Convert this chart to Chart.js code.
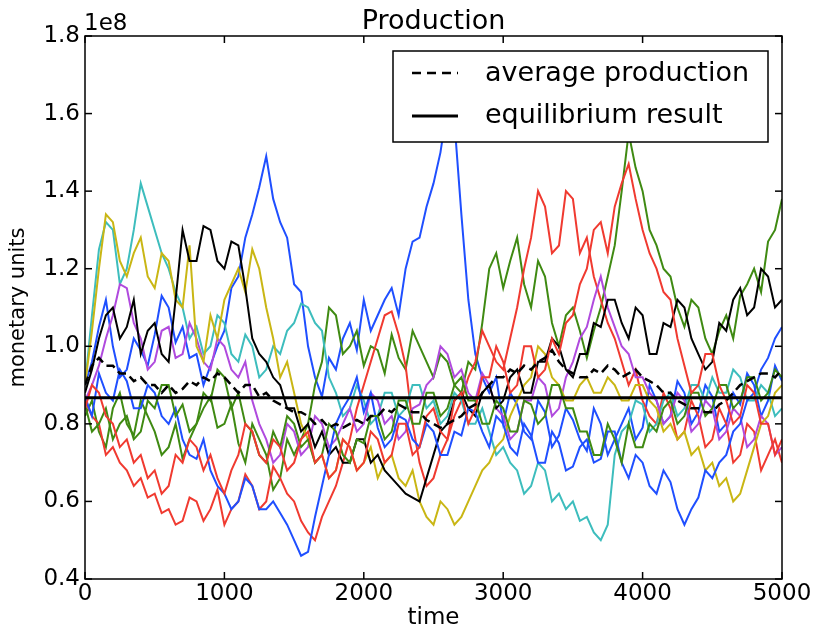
<!DOCTYPE html>
<html><head><meta charset="utf-8">
<script src="https://cdn.jsdelivr.net/npm/chart.js@4.4.1/dist/chart.umd.min.js"></script>
<style>html,body{margin:0;padding:0;background:#fff;}canvas{display:block;}</style>
</head><body>
<canvas id="c" width="815" height="634"></canvas>
<script>
// time axis (steps of 50)
const times = [
  0,50,100,150,200,250,300,350,400,450,
  500,550,600,650,700,750,800,850,900,950,
  1000,1050,1100,1150,1200,1250,1300,1350,1400,1450,
  1500,1550,1600,1650,1700,1750,1800,1850,1900,1950,
  2000,2050,2100,2150,2200,2250,2300,2350,2400,2450,
  2500,2550,2600,2650,2700,2750,2800,2850,2900,2950,
  3000,3050,3100,3150,3200,3250,3300,3350,3400,3450,
  3500,3550,3600,3650,3700,3750,3800,3850,3900,3950,
  4000,4050,4100,4150,4200,4250,4300,4350,4400,4450,
  4500,4550,4600,4650,4700,4750,4800,4850,4900,4950,
  5000];
const xTicks = [0,1000,2000,3000,4000,5000];
const yTicks = [0.4,0.6,0.8,1.0,1.2,1.4,1.6,1.8];
// values in units of 1e8 monetary units
const blueA = [
  0.90,0.96,1.05,1.12,1.00,0.92,0.94,1.02,0.99,0.95,
  1.03,1.13,1.10,1.01,1.05,0.97,0.98,0.90,0.95,1.00,
  1.04,1.15,1.18,1.28,1.34,1.41,1.49,1.38,1.32,1.28,
  1.16,1.14,1.00,0.92,0.87,0.97,0.94,1.02,1.06,0.99,
  1.12,1.04,1.08,1.12,1.15,1.08,1.20,1.27,1.28,1.36,
  1.42,1.50,1.62,1.58,1.34,1.12,0.98,0.92,0.88,0.92,
  0.80,0.88,0.85,0.78,0.76,0.86,0.83,0.74,0.77,0.84,
  0.81,0.76,0.73,0.84,0.80,0.72,0.76,0.80,0.84,0.76,
  0.79,0.90,0.86,0.80,0.82,0.91,0.88,0.80,0.83,0.90,
  0.87,0.78,0.80,0.88,0.85,0.93,0.90,0.82,0.86,0.95,
  0.91];
const greenA = [
  0.82,0.86,0.78,0.74,0.84,0.88,0.80,0.77,0.86,0.82,
  0.78,0.72,0.74,0.80,0.71,0.76,0.80,0.84,0.87,0.79,
  0.80,0.85,0.75,0.70,0.80,0.76,0.72,0.63,0.66,0.76,
  0.72,0.76,0.80,0.90,0.96,1.10,1.08,0.98,1.00,1.04,
  0.95,1.00,0.99,0.93,1.03,0.97,0.94,1.04,1.00,0.96,
  0.92,0.98,0.96,0.90,0.88,0.96,0.94,1.06,1.20,1.24,
  1.15,1.22,1.28,1.16,1.10,1.22,1.18,1.06,1.00,1.08,
  1.10,1.04,0.97,1.04,1.10,1.18,1.26,1.40,1.55,1.46,
  1.40,1.30,1.26,1.20,1.18,1.10,1.05,1.12,1.10,1.02,
  0.98,1.04,1.08,1.02,1.13,1.16,1.20,1.14,1.27,1.30,
  1.38];
const redA = [
  0.86,0.82,0.80,0.72,0.74,0.70,0.68,0.64,0.66,0.61,
  0.62,0.57,0.58,0.54,0.55,0.61,0.60,0.55,0.58,0.63,
  0.54,0.58,0.60,0.67,0.64,0.58,0.60,0.69,0.66,0.62,
  0.60,0.55,0.52,0.50,0.56,0.60,0.64,0.70,0.76,0.84,
  0.90,0.96,1.02,1.08,1.09,1.03,0.95,0.80,0.70,0.64,
  0.66,0.72,0.76,0.82,0.86,0.92,0.96,1.04,1.00,0.96,
  0.94,1.02,1.10,1.20,1.28,1.40,1.36,1.24,1.26,1.40,
  1.38,1.24,1.28,1.18,1.12,1.06,1.02,0.96,0.90,0.94,
  0.86,0.82,0.80,0.88,0.84,0.76,0.78,0.86,0.82,0.74,
  0.76,0.84,0.80,0.70,0.72,0.80,0.78,0.68,0.72,0.76,
  0.70];
const cyan = [
  0.90,1.08,1.25,1.32,1.30,1.16,1.20,1.30,1.42,1.36,
  1.30,1.24,1.20,1.14,1.10,1.02,1.05,0.98,1.00,1.08,
  1.06,0.98,0.96,1.03,1.00,0.92,0.94,1.00,0.98,1.04,
  1.06,1.11,1.10,1.06,1.04,0.92,0.88,0.82,0.84,0.90,
  0.86,0.80,0.82,0.88,0.88,0.82,0.84,0.90,0.90,0.84,
  0.86,0.80,0.82,0.88,0.86,0.80,0.80,0.84,0.78,0.72,
  0.74,0.70,0.68,0.62,0.64,0.70,0.68,0.60,0.62,0.58,
  0.60,0.55,0.56,0.52,0.50,0.54,0.72,0.78,0.80,0.86,
  0.85,0.78,0.80,0.86,0.88,0.82,0.84,0.90,0.90,0.86,
  0.92,0.88,0.88,0.94,0.92,0.86,0.86,0.90,0.88,0.82,
  0.84];
const magenta = [
  0.86,0.90,0.95,1.02,1.08,1.16,1.15,1.06,1.02,0.94,
  0.96,1.04,1.05,0.97,0.98,1.06,1.02,0.96,0.94,1.02,
  1.00,0.94,0.92,0.96,0.86,0.80,0.76,0.70,0.72,0.80,
  0.78,0.72,0.74,0.82,0.80,0.74,0.76,0.80,0.84,0.78,
  0.80,0.88,0.86,0.80,0.82,0.76,0.78,0.84,0.85,0.90,
  0.92,1.00,0.98,0.92,0.94,0.88,0.86,0.93,0.90,0.84,
  0.82,0.76,0.78,0.86,0.86,0.92,0.90,0.82,0.84,0.92,
  0.96,1.02,1.05,1.12,1.18,1.10,1.05,1.00,0.98,0.92,
  0.92,0.88,0.86,0.80,0.82,0.88,0.86,0.78,0.80,0.86,
  0.84,0.76,0.78,0.84,0.82,0.74,0.76,0.82,0.80,0.72,
  0.74];
const yellow = [
  0.90,1.04,1.20,1.34,1.32,1.22,1.18,1.24,1.28,1.18,
  1.15,1.24,1.22,1.12,1.10,1.26,1.00,0.96,1.08,1.02,
  1.12,1.16,1.20,1.14,1.25,1.20,1.10,1.02,0.92,0.96,
  0.88,0.80,0.76,0.70,0.72,0.66,0.68,0.76,0.74,0.68,
  0.70,0.74,0.66,0.70,0.72,0.66,0.64,0.68,0.60,0.56,
  0.54,0.60,0.58,0.54,0.56,0.60,0.64,0.68,0.70,0.74,
  0.76,0.82,0.86,0.90,0.92,1.00,0.98,0.92,0.90,0.86,
  0.86,0.90,0.92,0.88,0.88,0.92,0.90,0.86,0.86,0.90,
  0.90,0.86,0.84,0.78,0.80,0.76,0.78,0.72,0.74,0.68,
  0.70,0.64,0.66,0.60,0.62,0.68,0.74,0.80,0.82,0.88,
  0.90];
const black = [
  0.88,0.94,1.02,1.08,1.10,1.02,1.05,1.12,0.98,1.04,
  1.06,0.98,0.96,1.12,1.30,1.22,1.22,1.31,1.30,1.22,
  1.20,1.27,1.26,1.15,1.02,0.98,0.96,0.92,0.90,0.84,
  0.84,0.78,0.80,0.74,0.78,0.72,0.74,0.70,0.70,0.76,
  0.76,0.70,0.72,0.68,0.66,0.64,0.62,0.61,0.60,0.66,
  0.72,0.78,0.80,0.86,0.88,0.84,0.82,0.88,0.90,0.84,
  0.86,0.92,0.94,0.88,0.88,0.96,0.96,1.02,1.00,0.94,
  0.92,0.98,0.98,1.06,1.05,1.12,1.12,1.06,1.02,1.10,
  1.08,0.98,0.98,1.06,1.05,1.12,1.10,1.02,0.98,0.94,
  0.96,1.06,1.04,1.12,1.15,1.08,1.10,1.20,1.18,1.10,
  1.12];
const blueB = [
  0.87,0.82,0.93,0.88,0.86,0.94,0.91,0.84,0.84,0.90,
  0.88,0.82,0.80,0.84,0.76,0.72,0.71,0.76,0.68,0.64,
  0.62,0.58,0.60,0.66,0.64,0.58,0.58,0.60,0.57,0.54,
  0.50,0.46,0.47,0.56,0.64,0.72,0.80,0.84,0.87,0.92,
  0.83,0.88,0.79,0.74,0.76,0.82,0.81,0.76,0.74,0.80,
  0.78,0.72,0.72,0.78,0.77,0.84,0.83,0.78,0.74,0.82,
  0.80,0.74,0.72,0.80,0.77,0.70,0.70,0.78,0.75,0.68,
  0.69,0.74,0.76,0.70,0.71,0.78,0.78,0.70,0.66,0.72,
  0.70,0.64,0.62,0.68,0.65,0.58,0.54,0.58,0.61,0.68,
  0.66,0.70,0.72,0.78,0.80,0.86,0.88,0.94,0.97,1.02,
  1.05];
const greenB = [
  0.85,0.78,0.80,0.84,0.76,0.80,0.82,0.76,0.78,0.86,
  0.84,0.90,0.90,0.82,0.85,0.78,0.80,0.88,0.86,0.94,
  0.92,0.84,0.88,0.80,0.78,0.72,0.70,0.78,0.74,0.82,
  0.80,0.74,0.76,0.70,0.72,0.80,0.78,0.72,0.70,0.76,
  0.75,0.82,0.82,0.76,0.78,0.86,0.86,0.80,0.80,0.88,
  0.88,0.82,0.84,0.90,0.92,0.86,0.86,0.80,0.80,0.86,
  0.84,0.78,0.78,0.86,0.85,0.80,0.82,0.90,0.90,0.84,
  0.84,0.78,0.78,0.72,0.72,0.80,0.76,0.70,0.80,0.74,
  0.74,0.80,0.78,0.84,0.86,0.80,0.82,0.88,0.88,0.82,
  0.84,0.90,0.90,0.84,0.86,0.92,0.92,0.86,0.88,0.94,
  0.92];
const redB = [
  0.84,0.90,0.88,0.82,0.80,0.74,0.76,0.70,0.72,0.66,
  0.68,0.62,0.64,0.72,0.70,0.76,0.74,0.68,0.72,0.66,
  0.62,0.68,0.72,0.80,0.78,0.72,0.70,0.76,0.74,0.68,
  0.70,0.76,0.78,0.70,0.72,0.66,0.68,0.76,0.74,0.68,
  0.70,0.78,0.76,0.70,0.72,0.80,0.80,0.72,0.74,0.82,
  0.84,0.78,0.76,0.86,0.88,0.80,0.84,0.92,0.92,1.00,
  0.96,0.88,0.90,1.00,1.00,0.92,0.94,1.02,0.98,1.06,
  1.08,1.16,1.20,1.30,1.32,1.24,1.36,1.42,1.47,1.38,
  1.30,1.24,1.20,1.14,1.12,1.02,0.95,0.88,0.90,0.98,
  0.98,0.90,0.86,0.80,0.82,0.90,0.88,0.80,0.80,0.72,
  0.76];
const average = [
  0.90,0.95,0.97,0.95,0.95,0.93,0.93,0.91,0.92,0.90,
  0.90,0.88,0.90,0.88,0.89,0.91,0.90,0.92,0.91,0.93,
  0.92,0.90,0.88,0.90,0.90,0.87,0.88,0.86,0.85,0.84,
  0.83,0.83,0.82,0.80,0.81,0.79,0.80,0.79,0.80,0.81,
  0.80,0.82,0.82,0.84,0.83,0.85,0.84,0.83,0.83,0.81,
  0.80,0.79,0.80,0.81,0.82,0.84,0.85,0.88,0.90,0.92,
  0.92,0.94,0.93,0.95,0.94,0.96,0.97,0.99,0.96,0.94,
  0.93,0.92,0.92,0.94,0.93,0.95,0.94,0.92,0.93,0.94,
  0.92,0.91,0.90,0.88,0.88,0.86,0.85,0.84,0.84,0.83,
  0.83,0.85,0.86,0.88,0.90,0.91,0.92,0.93,0.93,0.92,
  0.94];
const eqTimes = [0,5000];
const equilibrium = [0.867,0.867];

const runs = [
  {v: blueA,   c: '#1f4fff'},
  {v: greenA,  c: '#3f8a12'},
  {v: redA,    c: '#f03a30'},
  {v: cyan,    c: '#3dbdbd'},
  {v: magenta, c: '#b04ade'},
  {v: yellow,  c: '#c9b614'},
  {v: black,   c: '#000000'},
  {v: blueB,   c: '#1f4fff'},
  {v: greenB,  c: '#3f8a12'},
  {v: redB,    c: '#f03a30'}
];
const pts = (xs, ys) => xs.map((t,i)=>({x:t, y:ys[i]}));
const datasets = runs.map((r,i)=>({
  data: pts(times, r.v), borderColor: r.c, borderWidth: 2, pointRadius: 0, tension: 0, fill: false, order: 100 - i
}));
datasets.push({label:'average production', data: pts(times, average), borderColor:'#000', borderWidth:2.5, borderDash:[9,5], pointRadius:0, fill:false, order: 2});
datasets.push({label:'equilibrium result', data: pts(eqTimes, equilibrium), borderColor:'#000', borderWidth:3, pointRadius:0, fill:false, order: 1});

const FONT = '"DejaVu Sans", sans-serif';
const decor = {
  id: 'decor',
  afterDatasetsDraw(chart) {
    const {ctx, chartArea: a, scales: {x, y}} = chart;
    ctx.save();
    ctx.strokeStyle = '#000';
    ctx.lineWidth = 1.5;
    const seg = (x1,y1,x2,y2)=>{ctx.beginPath();ctx.moveTo(x1,y1);ctx.lineTo(x2,y2);ctx.stroke();};
    xTicks.forEach(v=>{ const px = x.getPixelForValue(v); seg(px,a.bottom,px,a.bottom-7); seg(px,a.top,px,a.top+7); });
    yTicks.forEach(v=>{ const py = y.getPixelForValue(v); seg(a.left,py,a.left+7,py); seg(a.right,py,a.right-7,py); });
    ctx.strokeRect(a.left, a.top, a.right - a.left, a.bottom - a.top);
    // legend
    const L = {x: 393, y: 51, w: 375, h: 91};
    ctx.fillStyle = '#fff';
    ctx.fillRect(L.x, L.y, L.w, L.h);
    ctx.strokeRect(L.x, L.y, L.w, L.h);
    ctx.lineWidth = 2.5; ctx.setLineDash([9,6]);
    seg(412, 73, 458, 73);
    ctx.setLineDash([]); ctx.lineWidth = 3;
    seg(412, 116, 458, 116);
    ctx.fillStyle = '#000';
    ctx.font = '27px ' + FONT;
    ctx.textAlign = 'left'; ctx.textBaseline = 'middle';
    ctx.fillText('average production', 485, 74);
    ctx.fillText('equilibrium result', 485, 116);
    // title and offset text
    ctx.textBaseline = 'alphabetic';
    ctx.textAlign = 'center';
    ctx.fillText('Production', (a.left + a.right) / 2, 29);
    ctx.textAlign = 'left';
    ctx.font = '23px ' + FONT;
    ctx.fillText('1e8', a.left - 1, 30);
    ctx.restore();
  }
};

new Chart(document.getElementById('c'), {
  type: 'line',
  data: { datasets },
  options: {
    responsive: false, animation: false, devicePixelRatio: 1,
    layout: { padding: { top: 36, left: 0, right: 33, bottom: 0 } },
    plugins: { legend: { display: false }, title: { display: false }, tooltip: { enabled: false } },
    scales: {
      x: {
        type: 'linear', min: 0, max: 5000,
        grid: { display: false, drawTicks: false }, border: { display: false },
        afterBuildTicks: s => { s.ticks = xTicks.map(v => ({value: v})); },
        afterFit: s => { s.height = 55; },
        ticks: { color: '#000', font: { family: FONT, size: 23 }, padding: 1, maxRotation: 0, autoSkip: false, callback: v => String(v) },
        title: { display: true, text: 'time', color: '#000', font: { family: FONT, size: 23 }, padding: { top: 0, bottom: 2 } }
      },
      y: {
        type: 'linear', min: 0.4, max: 1.8,
        grid: { display: false, drawTicks: false }, border: { display: false },
        afterBuildTicks: s => { s.ticks = yTicks.map(v => ({value: v})); },
        afterFit: s => { s.width = 85; },
        ticks: { color: '#000', font: { family: FONT, size: 23 }, padding: 5, callback: v => Number(v).toFixed(1) },
        title: { display: true, text: 'monetary units', color: '#000', font: { family: FONT, size: 21 }, padding: { top: 6, bottom: 0 } }
      }
    }
  },
  plugins: [decor]
});
</script>
</body></html>
